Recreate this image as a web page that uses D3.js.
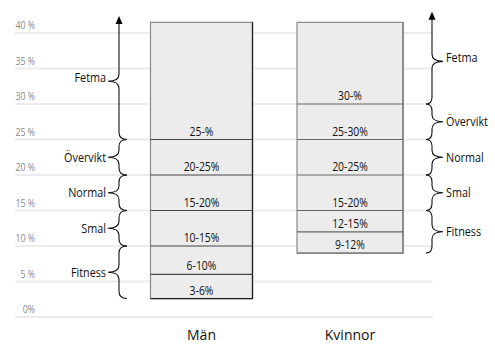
<!DOCTYPE html>
<html>
<head>
<meta charset="utf-8">
<script src="https://cdn.jsdelivr.net/npm/d3@7"></script>
<style>
  html, body { margin: 0; padding: 0; background: #fff; }
  .cond { font-family: "Open Sans", "Noto Sans", sans-serif; }
</style>
</head>
<body>
<svg id="chart" width="495" height="356"></svg>
<script>
// ---- data ----
const yTicks = [0, 5, 10, 15, 20, 25, 30, 35, 40];
const tickLabels = ["0%", "5 %", "10 %", "15 %", "20 %", "25 %", "30 %", "35 %", "40 %"];
const categories = ["Män", "Kvinnor"];
const menBounds = [2.6, 6, 10, 15, 20, 25, 41.5];
const menLabels = ["3-6%", "6-10%", "10-15%", "15-20%", "20-25%", "25-%"];
const womenBounds = [9, 12, 15, 20, 25, 30, 41.5];
const womenLabels = ["9-12%", "12-15%", "15-20%", "20-25%", "25-30%", "30-%"];
const bmiClasses = ["Fitness", "Smal", "Normal", "Övervikt", "Fetma"];
const menRanges = [[2.6, 10], [10, 15], [15, 20], [20, 25], [25, 42.4]];
const womenRanges = [[9, 15], [15, 20], [20, 25], [25, 30], [30, 43]];

// ---- layout ----
const svg = d3.select("#chart");
const y = d3.scaleLinear().domain([0, 40]).range([317, 33]);
const x = d3.scalePoint().domain(categories).range([201.5, 350]);
const barW = [102, 106];
const SX = 0.8; // horizontal compression to mimic a condensed face

function condText(g, xPos, yPos, txt, size, fill, anchor) {
  return g.append("text")
    .attr("class", "cond")
    .attr("transform", `translate(${xPos},${yPos}) scale(${SX},1)`)
    .attr("text-anchor", anchor)
    .attr("font-size", size).attr("fill", fill)
    .text(txt);
}

// grid
svg.append("g").selectAll("line").data(yTicks).join("line")
  .attr("x1", 15).attr("x2", 433)
  .attr("y1", d => y(d)).attr("y2", d => y(d))
  .attr("stroke", "#ebebeb").attr("stroke-width", 2);

// tick labels
const tg = svg.append("g");
yTicks.forEach((d, i) => condText(tg, 35, y(d) - 4, tickLabels[i], 11, "#8a8a8a", "end"));

// bars
function drawBar(cat, bounds, labels, w, edgeDark, divColor) {
  const cx = x(cat), x0 = cx - w / 2, x1 = cx + w / 2;
  const g = svg.append("g");
  const top = y(bounds[bounds.length - 1]), bot = y(bounds[0]);
  g.append("rect").attr("x", x0).attr("y", top).attr("width", w).attr("height", bot - top)
    .attr("fill", "#ececec").attr("stroke", "#8a8a8a").attr("stroke-width", 1.2);
  g.append("path").attr("d", `M${x1},${top}L${x1},${bot}L${x0},${bot}`)
    .attr("fill", "none").attr("stroke", edgeDark).attr("stroke-width", 1.3);
  g.selectAll("line.div").data(bounds.slice(1, -1)).join("line")
    .attr("x1", x0).attr("x2", x1).attr("y1", d => y(d)).attr("y2", d => y(d))
    .attr("stroke", divColor).attr("stroke-width", 1.2);
  labels.forEach((t, i) => condText(g, cx, y(bounds[i]) - 4, t, 13, "#111", "middle"));
  svg.append("text").attr("x", cx).attr("y", 340)
    .attr("text-anchor", "middle")
    .attr("font-family", "'Open Sans', sans-serif").attr("font-size", 14).attr("fill", "#111")
    .text(cat);
}
drawBar(categories[0], menBounds, menLabels, barW[0], "#222", "#444");
drawBar(categories[1], womenBounds, womenLabels, barW[1], "#777", "#666");

// braces
function bracePath(xc, xe, xp, y1, y2, arrowTop) {
  const ym = (y1 + y2) / 2, r = 7;
  let p = arrowTop ? `M${xc},${y1}` : `M${xe},${y1}Q${xc},${y1} ${xc},${y1 + r}`;
  p += `L${xc},${ym - r}Q${xc},${ym} ${xp},${ym}`;
  p += `Q${xc},${ym} ${xc},${ym + r}`;
  p += `L${xc},${y2 - r}Q${xc},${y2} ${xe},${y2}`;
  return p;
}
function drawBraces(ranges, xc, xe, xp, side) {
  const g = svg.append("g");
  ranges.forEach((r, i) => {
    const isTop = i === ranges.length - 1;
    const yTop = y(r[1]), yBot = y(r[0]);
    const pTop = isTop ? yTop + 7 : yTop;
    g.append("path")
      .attr("d", bracePath(xc, xe, xp, pTop, yBot, isTop))
      .attr("fill", "none").attr("stroke", "#111").attr("stroke-width", 1.1);
    if (isTop) {
      g.append("path")
        .attr("d", `M${xc},${yTop}L${xc + 3.5},${yTop + 8}L${xc - 3.5},${yTop + 8}Z`)
        .attr("fill", "#000");
    }
    condText(g, side < 0 ? xp - 2 : xp + 3, (yTop + yBot) / 2 + 4.5, bmiClasses[i], 13.5, "#111", side < 0 ? "end" : "start");
  });
}
drawBraces(menRanges, 119, 127, 108, -1);
drawBraces(womenRanges, 432, 426, 443, 1);
</script>
</body>
</html>
